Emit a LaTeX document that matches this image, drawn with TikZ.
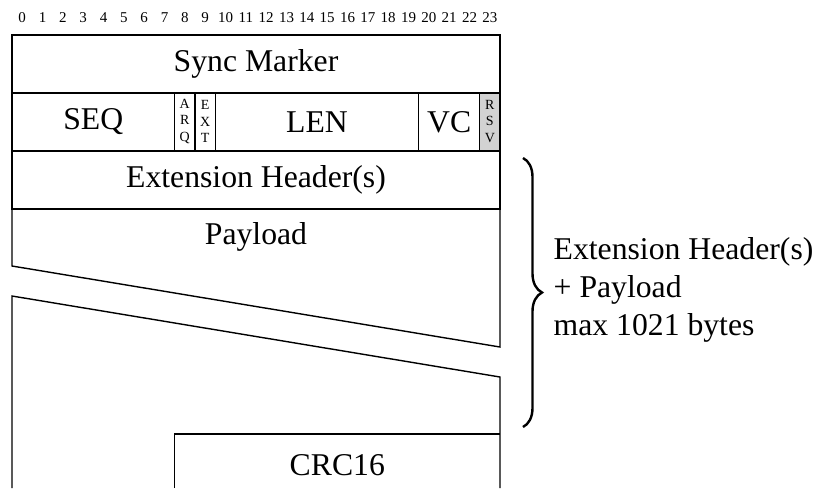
\documentclass[tikz,border=0pt]{standalone}
\usepackage{fontspec}
\setmainfont{Liberation Serif}
\usetikzlibrary{decorations.pathreplacing}
\begin{document}
\begin{tikzpicture}[x=0.5pt,y=-0.5pt, line width=0.7pt,
  lbl/.style={font=\fontsize{15.85}{19}\selectfont, inner sep=0},
  bitnum/.style={font=\fontsize{7.5}{9}\selectfont, inner sep=0},
  tinylbl/.style={font=\fontsize{7}{8.35}\selectfont, align=center, inner sep=0},
  rsvfill/.style={fill=gray!35}]
\useasboundingbox (0,0) rectangle (819,488);
\foreach \i in {0,...,23} \node[bitnum] (b\i) at ({12+(\i+0.5)*488/24},18) {\i};
% row 1
\draw (12,35) rectangle (500,93);
\node[lbl] (sync) at (256,64) {Sync Marker};
% row 2
\fill[rsvfill] (479.67,93) rectangle (500,151);
\draw (12,93) rectangle (500,151);
\foreach \x in {174.67,195,215.33,418.67,479.67} \draw (\x,93) -- (\x,151);
\node[lbl] (seq) at (93.3,122) {SEQ};
\node[tinylbl] (arq) at (184.8,121.5) {A\\R\\Q};
\node[tinylbl] (ext) at (205.2,121.5) {E\\X\\T};
\node[lbl] (len) at (317,122) {LEN};
\node[lbl] (vc) at (449.2,122) {VC};
\node[tinylbl] (rsv) at (489.8,121.5) {R\\S\\V};
% row 3
\draw (12,151) rectangle (500,209);
\node[lbl] (exth) at (256,180) {Extension Header(s)};
% payload
\draw (12,209) -- (12,266) -- (500,347) -- (500,209);
\draw (12,488) -- (12,296) -- (500,377) -- (500,488);
\node[lbl] (payload) at (256,237) {Payload};
% CRC
\draw (174.67,488) -- (174.67,434) -- (500,434);
\node[lbl] (crc) at (337.3,465) {CRC16};
% brace
\coordinate (bt) at (523,158);
\coordinate (bb) at (523,427);
\draw[line width=1.2pt, decorate, decoration={brace, amplitude=9.5pt}] (bt) -- (bb);
\node[lbl, anchor=west, align=left, font=\fontsize{15.85}{19}\selectfont] (note) at (553,290) {Extension Header(s)\\+ Payload\\max 1021 bytes};
\end{tikzpicture}
\end{document}
